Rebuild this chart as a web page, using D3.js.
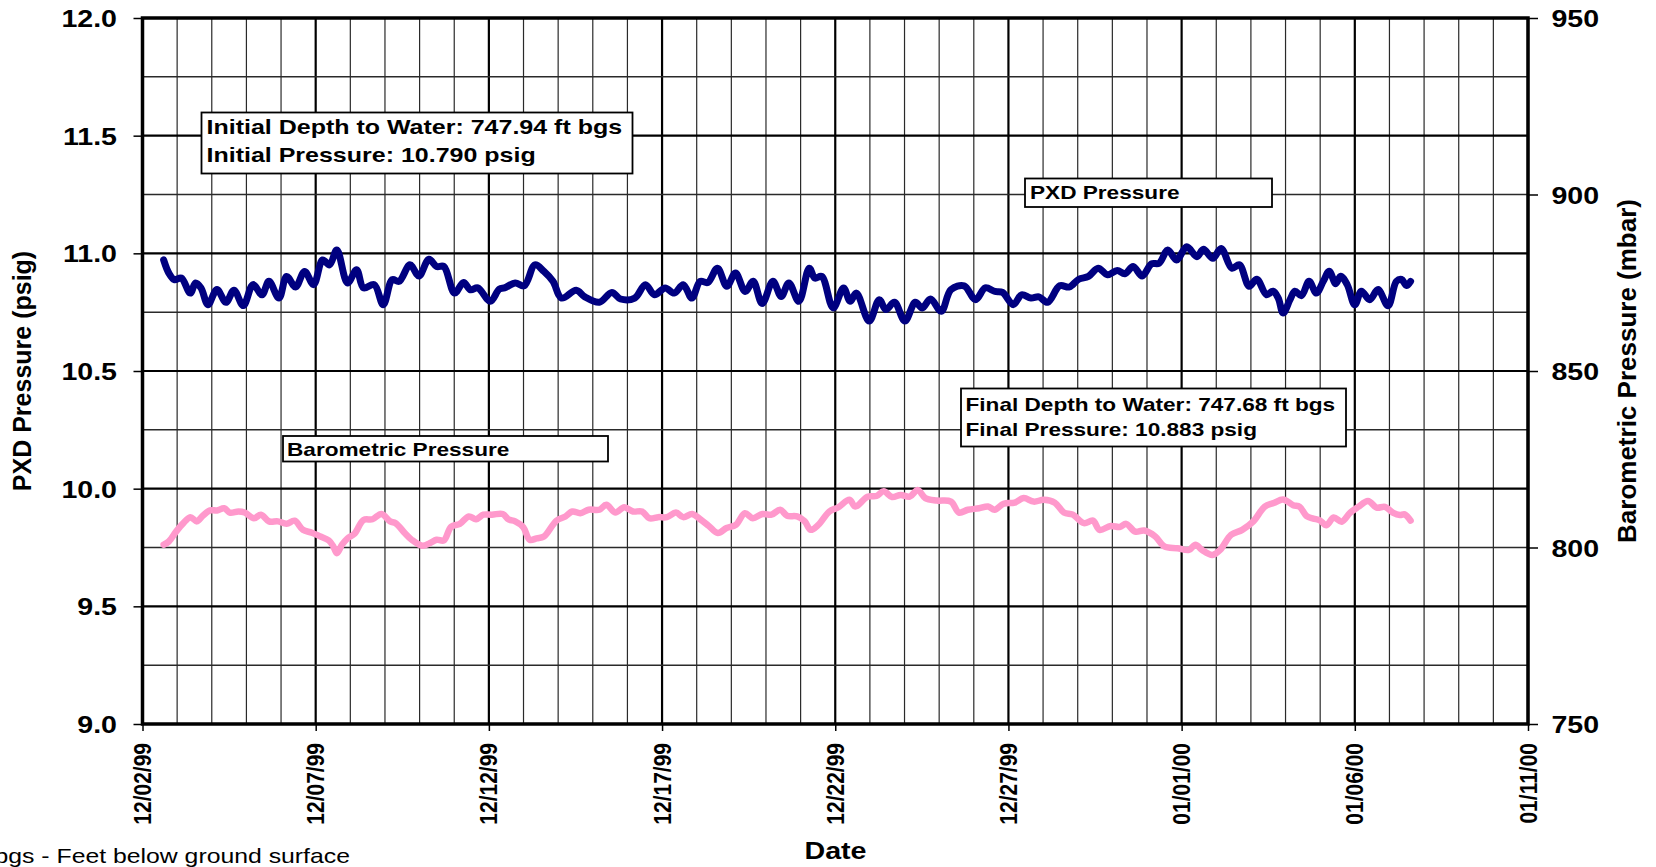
<!DOCTYPE html>
<html>
<head>
<meta charset="utf-8">
<script src="https://cdn.jsdelivr.net/npm/d3@7"></script>
<style>
  body { margin: 0; background: #fff; }
  svg { display: block; font-family: "Liberation Sans", Arial, sans-serif; }
</style>
</head>
<body>
<svg id="chart" width="1656" height="867"></svg>
<script>
// PXD pressure, days after 12/02/99 00:00 and psig
var pxdDays = [0.61,0.76,0.92,1.12,1.38,1.53,1.69,1.89,2.15,2.41,2.64,2.91,3.19,3.45,3.65,3.94,4.16,4.42,4.68,4.94,
  5.20,5.40,5.61,5.92,6.18,6.38,6.69,6.95,7.21,7.41,7.72,7.98,8.27,8.49,8.70,9.01,9.27,9.47,9.68,10.04,
  10.30,10.45,10.76,11.02,11.33,11.59,11.85,12.10,12.52,12.77,13.19,13.55,13.80,14.21,14.52,14.78,15.09,15.35,15.61,15.86,
  16.10,16.32,16.60,16.87,17.12,17.40,17.63,17.89,18.20,18.44,18.66,18.95,19.25,19.41,19.61,19.94,20.24,20.43,20.61,20.98,
  21.27,21.46,21.71,22.01,22.31,22.51,22.75,23.06,23.34,23.72,24.05,24.33,24.61,24.83,25.14,25.38,25.65,25.88,26.13,26.48,
  26.76,27.03,27.31,27.59,27.86,28.14,28.36,28.60,28.86,29.13,29.35,29.60,29.85,30.15,30.44,30.63,30.90,31.14,31.45,31.67,
  31.95,32.17,32.45,32.64,32.79,32.93,33.13,33.27,33.46,33.68,33.89,34.09,34.26,34.45,34.59,34.78,35.00,35.19,35.43,35.67,
  35.96,36.20,36.35,36.49,36.61];
var pxdPsig = [10.972,10.916,10.888,10.895,10.831,10.874,10.853,10.782,10.846,10.792,10.843,10.778,10.867,10.824,10.881,10.810,10.902,10.857,10.923,10.867,
  10.972,10.951,11.014,10.874,10.930,10.853,10.867,10.782,10.888,10.881,10.951,10.904,10.975,10.944,10.944,10.831,10.876,10.845,10.853,10.796,
  10.848,10.853,10.874,10.862,10.951,10.923,10.881,10.810,10.843,10.815,10.792,10.834,10.806,10.810,10.867,10.824,10.853,10.831,10.867,10.810,
  10.881,10.876,10.937,10.860,10.916,10.838,10.881,10.787,10.881,10.817,10.874,10.796,10.937,10.895,10.902,10.768,10.853,10.796,10.831,10.712,
  10.803,10.761,10.792,10.712,10.792,10.768,10.806,10.754,10.846,10.862,10.803,10.853,10.838,10.834,10.782,10.824,10.810,10.815,10.792,10.862,
  10.857,10.890,10.902,10.937,10.909,10.927,10.913,10.944,10.904,10.955,10.958,11.014,10.972,11.028,10.986,11.017,10.979,11.021,10.937,10.951,
  10.860,10.890,10.824,10.839,10.810,10.746,10.803,10.839,10.820,10.881,10.831,10.881,10.924,10.871,10.903,10.867,10.781,10.839,10.803,10.846,
  10.777,10.881,10.889,10.863,10.881];

// Barometric pressure, days after 12/02/99 00:00 and mbar
var baroDays = [0.61,0.76,0.97,1.18,1.38,1.57,1.74,1.95,2.15,2.36,2.52,2.77,2.95,3.22,3.42,3.65,3.91,4.16,4.39,4.63,
  4.89,5.14,5.38,5.51,5.61,5.76,5.92,6.12,6.38,6.64,6.90,7.15,7.31,7.57,7.77,8.08,8.29,8.49,8.70,8.91,
  9.16,9.42,9.63,9.84,10.09,10.40,10.56,10.76,10.99,11.18,11.38,11.59,11.95,12.21,12.41,12.64,12.88,13.19,13.39,13.65,
  13.91,14.16,14.42,14.63,14.89,15.14,15.40,15.61,15.87,16.10,16.35,16.61,16.86,17.13,17.39,17.62,17.90,18.16,18.41,18.61,
  18.90,19.12,19.29,19.51,19.83,20.09,20.41,20.58,20.93,21.19,21.40,21.64,21.89,22.15,22.38,22.60,22.93,23.34,23.57,23.83,
  24.15,24.41,24.60,24.86,25.18,25.44,25.73,26.02,26.34,26.60,26.86,27.18,27.44,27.63,27.95,28.21,28.40,28.66,28.92,29.24,
  29.50,29.88,30.21,30.40,30.59,30.89,31.11,31.43,31.75,32.07,32.40,32.66,32.93,33.22,33.41,33.61,33.80,33.99,34.18,34.39,
  34.62,34.86,35.10,35.38,35.63,35.87,36.11,36.30,36.44,36.61];
var baroMbar = [800.8,801.7,804.5,806.9,808.6,807.4,809.0,810.5,810.5,811.1,809.9,810.2,809.9,808.3,809.3,807.4,807.4,806.7,807.6,805.0,
  804.2,803.1,802.0,800.3,798.4,800.8,802.6,803.9,807.8,808.0,809.5,807.4,806.9,804.1,802.2,800.5,801.2,802.2,802.0,805.9,
  806.7,808.8,808.0,809.3,809.3,809.5,808.0,807.4,805.8,802.2,802.6,803.1,807.6,808.8,810.2,809.7,810.7,810.7,812.1,809.9,
  811.4,810.2,810.2,808.3,808.6,808.6,809.9,808.6,809.5,808.0,806.1,804.1,805.5,806.4,809.7,808.3,809.5,809.3,810.7,809.0,
  808.8,807.4,805.0,806.4,810.2,811.4,813.5,811.6,814.4,814.6,815.9,814.3,814.9,814.4,816.3,814.0,813.3,813.0,809.9,810.7,
  811.1,811.6,810.7,812.4,812.7,814.0,813.0,813.5,812.7,809.9,809.3,806.9,807.6,805.0,806.1,805.8,806.7,804.5,804.8,803.1,
  800.3,799.8,799.3,800.8,799.3,797.9,799.3,803.6,805.0,807.4,811.6,812.6,813.6,812.0,811.5,808.9,808.2,807.7,806.3,808.5,
  807.3,809.8,811.5,813.2,811.3,811.5,809.8,809.2,809.4,807.6];

var psigTicks = [9.0, 9.5, 10.0, 10.5, 11.0, 11.5, 12.0];
var mbarTicks = [750, 800, 850, 900, 950];
var dateLabels = ["12/02/99","12/07/99","12/12/99","12/17/99","12/22/99","12/27/99","01/01/00","01/06/00","01/11/00"];

var notes = [
  {lines: ["Initial Depth to Water: 747.94 ft bgs", "Initial Pressure: 10.790 psig"], box: [201.5, 112.5, 431, 61], tx: 206.5, ty: 134, fs: 21, lh: 28},
  {lines: ["PXD Pressure"], box: [1025, 178.5, 247, 28.5], tx: 1030, ty: 199, fs: 19, lh: 0},
  {lines: ["Final Depth to Water: 747.68 ft bgs", "Final Pressure: 10.883 psig"], box: [961, 388.5, 385, 58], tx: 965.5, ty: 411, fs: 19, lh: 25},
  {lines: ["Barometric Pressure"], box: [283, 436, 325, 25.5], tx: 287, ty: 456, fs: 19, lh: 0}
];

var margin = {top: 18, right: 128, bottom: 143, left: 142.5},
    width = 1656 - margin.left - margin.right,
    height = 867 - margin.top - margin.bottom;

var start = new Date(1999, 11, 2), end = new Date(2000, 0, 11);
function dayToDate(d) { return new Date(start.getTime() + d * 864e5); }

var svg = d3.select("#chart");
var g = svg.append("g").attr("transform", "translate(" + margin.left + "," + margin.top + ")");

var x = d3.scaleTime().domain([start, end]).range([0, width]);
var y = d3.scaleLinear().domain([9, 12]).range([height, 0]);
var y2 = d3.scaleLinear().domain([750, 950]).range([height, 0]);

// grid
var days = d3.timeDay.range(start, d3.timeDay.offset(end, 1));
g.append("g").selectAll("line").data(days).enter().append("line")
  .attr("x1", d => x(d)).attr("x2", d => x(d))
  .attr("y1", 0).attr("y2", height)
  .attr("stroke", (d, i) => i % 5 == 0 ? "#000" : "#2a2a2a")
  .attr("stroke-width", (d, i) => i % 5 == 0 ? 2.2 : 1.2);

var hgrid = d3.range(9, 12.001, 0.25);
g.append("g").selectAll("line").data(hgrid).enter().append("line")
  .attr("x1", 0).attr("x2", width)
  .attr("y1", d => y(d)).attr("y2", d => y(d))
  .attr("stroke", (d, i) => i % 2 == 0 ? "#000" : "#2a2a2a")
  .attr("stroke-width", (d, i) => i % 2 == 0 ? 2.2 : 1.5);

// lines
var pxd = pxdDays.map((d, i) => [dayToDate(d), pxdPsig[i]]);
var baro = baroDays.map((d, i) => [dayToDate(d), baroMbar[i]]);

g.append("path").datum(baro)
  .attr("fill", "none").attr("stroke", "#ff99cc").attr("stroke-width", 6.5)
  .attr("stroke-linejoin", "round").attr("stroke-linecap", "round")
  .attr("d", d3.line().curve(d3.curveCatmullRom).x(d => x(d[0])).y(d => y2(d[1])));

g.append("path").datum(pxd)
  .attr("fill", "none").attr("stroke", "#000080").attr("stroke-width", 7)
  .attr("stroke-linejoin", "round").attr("stroke-linecap", "round")
  .attr("d", d3.line().curve(d3.curveCatmullRom).x(d => x(d[0])).y(d => y(d[1])));

// frame
g.append("rect").attr("width", width).attr("height", height)
  .attr("fill", "none").attr("stroke", "#000").attr("stroke-width", 3.5);

// axes
var fiveDays = days.filter((d, i) => i % 5 == 0);

var xAxis = g.append("g").attr("transform", "translate(0," + height + ")")
  .call(d3.axisBottom(x).tickValues(fiveDays).tickFormat((d, i) => dateLabels[i]).tickSize(7));
xAxis.select(".domain").remove();
xAxis.selectAll("line").attr("stroke", "#000").attr("stroke-width", 1.5);
xAxis.selectAll("text")
  .attr("x", 0).attr("y", 0).attr("dy", "0.35em")
  .attr("text-anchor", "end")
  .attr("transform", "translate(0,19) scale(1.1,1) rotate(-90)")
  .style("font-size", "21px").style("font-weight", "bold").attr("fill", "#000");

var yAxis = g.append("g")
  .call(d3.axisLeft(y).tickValues(psigTicks).tickFormat(d3.format(".1f")).tickSize(9));
yAxis.select(".domain").remove();
yAxis.selectAll("line").attr("stroke", "#000").attr("stroke-width", 1.5);
yAxis.selectAll("text")
  .attr("x", 0).attr("dy", "0.36em").attr("text-anchor", "end")
  .attr("transform", "translate(-25.5,0) scale(1.19,1)")
  .style("font-size", "24px").style("font-weight", "bold").attr("fill", "#000");

var y2Axis = g.append("g").attr("transform", "translate(" + width + ",0)")
  .call(d3.axisRight(y2).tickValues(mbarTicks).tickSize(10));
y2Axis.select(".domain").remove();
y2Axis.selectAll("line").attr("stroke", "#000").attr("stroke-width", 1.5);
y2Axis.selectAll("text")
  .attr("x", 0).attr("dy", "0.36em").attr("text-anchor", "start")
  .attr("transform", "translate(23.5,0) scale(1.19,1)")
  .style("font-size", "24px").style("font-weight", "bold").attr("fill", "#000");

// axis titles
svg.append("text").attr("transform", "translate(31,371) rotate(-90)")
  .attr("text-anchor", "middle").style("font-size", "25px").style("font-weight", "bold")
  .text("PXD Pressure (psig)");
svg.append("text").attr("transform", "translate(1636,371) rotate(-90)")
  .attr("text-anchor", "middle").style("font-size", "26px").style("font-weight", "bold")
  .text("Barometric Pressure (mbar)");
svg.append("text").attr("transform", "translate(835.5,859) scale(1.17,1)")
  .attr("text-anchor", "middle").style("font-size", "24.5px").style("font-weight", "bold")
  .text("Date");

// annotation boxes
notes.forEach(function(n) {
  svg.append("rect").attr("x", n.box[0]).attr("y", n.box[1]).attr("width", n.box[2]).attr("height", n.box[3])
    .attr("fill", "#fff").attr("stroke", "#000").attr("stroke-width", 1.8);
  n.lines.forEach(function(t, i) {
    svg.append("text").attr("transform", "translate(" + n.tx + "," + (n.ty + i * n.lh) + ") scale(1.19,1)")
      .style("font-size", n.fs + "px").style("font-weight", "bold").text(t);
  });
});

// footnote
svg.append("text").attr("transform", "translate(-5.5,863) scale(1.24,1)")
  .style("font-size", "20px").text("bgs - Feet below ground surface");
</script>
</body>
</html>
